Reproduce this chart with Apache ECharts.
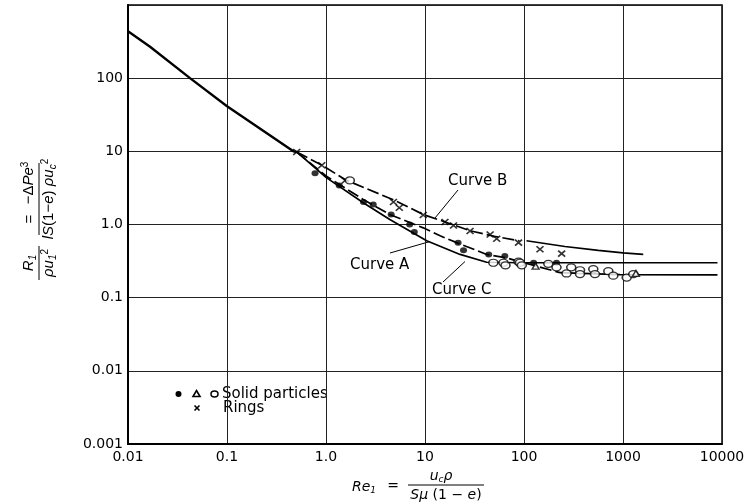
<!DOCTYPE html>
<html>
<head>
<meta charset="utf-8">
<script src="https://cdn.jsdelivr.net/npm/echarts@6/dist/echarts.min.js"></script>
<style>
  html, body { margin: 0; padding: 0; background: #fff; }
  #chart { width: 745px; height: 503px; }
</style>
</head>
<body>
<div id="chart"></div>
<script>
// Tick labels, one per decade
const xTickLabels = ['0.01', '0.1', '1.0', '10', '100', '1000', '10000'];
const yTickLabels = ['0.001', '0.01', '0.1', '1.0', '10', '100', ''];

// Common viscous-region line [Re1, R1/(rho u1^2)]
const lowReCurve = [[0.01, 437], [0.0167, 269], [0.0423, 100], [0.0993, 41.6], [0.468, 10], [0.506, 9.8]];

// Curve B (upper)
const curveBDashed = [[0.506, 9.8], [0.906, 6.47], [1.62, 4.0], [4.98, 2.13], [9.6, 1.37], [19.3, 0.99], [28.5, 0.82], [50, 0.69], [90, 0.6]];
const curveBSolid = [[106, 0.6], [259, 0.5], [563, 0.444], [1000, 0.41], [1600, 0.39]];

// Curve A (middle at low Re, lowest at high Re)
const curveADashed = [[0.506, 9.8], [1, 4.6], [2.38, 2.2], [4.4, 1.37], [9.6, 0.9], [14.2, 0.7], [20.9, 0.565], [42, 0.39], [66, 0.35], [231, 0.22]];
const curveASolid = [[231, 0.22], [930, 0.207], [9000, 0.205]];

// Curve C
const curveC = [[0.506, 9.8], [1, 4.4], [2.38, 1.98], [4.41, 1.17], [10.4, 0.6], [22.6, 0.39], [42, 0.305], [91, 0.3], [231, 0.3], [9000, 0.3]];

// Experimental points
const rings = [[0.506, 9.8], [0.906, 6.47], [1.56, 4.0], [4.8, 2.03], [5.5, 1.69], [9.6, 1.35], [15.9, 1.08], [19.4, 0.97],
  [28.5, 0.815], [45.5, 0.73], [53, 0.64], [88, 0.565], [145, 0.458], [240, 0.4]];
const solidDots = [[0.775, 5.0], [1.36, 3.4], [2.39, 2.03], [3.0, 1.88], [4.55, 1.37], [7.0, 1.0], [7.8, 0.79],
  [21.6, 0.565], [24.5, 0.444], [44, 0.39], [64, 0.37], [125, 0.3], [213, 0.3]];
const openCircles = [[1.74, 4.0], [49, 0.3], [62, 0.3], [65, 0.277], [88, 0.31], [91, 0.3], [95, 0.277], [176, 0.29],
  [213, 0.26], [269, 0.214], [300, 0.26], [368, 0.237], [368, 0.21], [501, 0.246], [521, 0.21], [711, 0.23],
  [798, 0.2], [1090, 0.188], [1270, 0.21]];
const openTriangles = [[131, 0.27], [1350, 0.215]];

const tickFont = 'DejaVu Sans';
const labelFont = 'DejaVu Sans';
const mathFont = 'Liberation Sans';

function decadeIndex(v, base) {
  return Math.round(Math.log10(v)) - base;
}

const yRich = {
  i: { fontFamily: mathFont, fontStyle: 'italic', fontSize: 15, lineHeight: 18, color: '#000' },
  n: { fontFamily: mathFont, fontSize: 15, lineHeight: 18, color: '#000' },
  sb: { fontFamily: mathFont, fontStyle: 'italic', fontSize: 10, lineHeight: 9, verticalAlign: 'bottom', color: '#000' },
  sp: { fontFamily: mathFont, fontSize: 10, lineHeight: 9, verticalAlign: 'top', color: '#000' }
};
const xRich = {
  i: { fontFamily: labelFont, fontStyle: 'italic', fontSize: 14, lineHeight: 17, color: '#000' },
  n: { fontFamily: labelFont, fontSize: 14, lineHeight: 17, color: '#000' },
  sb: { fontFamily: labelFont, fontStyle: 'italic', fontSize: 9, lineHeight: 8, verticalAlign: 'bottom', color: '#000' }
};

function richText(x, y, text, rich) {
  return {
    type: 'text', x: x, y: y, silent: true,
    style: { text: text, rich: rich, align: 'center', verticalAlign: 'middle',
      textAlign: 'center', textVerticalAlign: 'middle', fill: '#000' }
  };
}
function plainText(x, y, text, size, family, align) {
  return {
    type: 'text', x: x, y: y, silent: true,
    style: { text: text, fontFamily: family, fontSize: size, fill: '#000',
      align: align || 'center', verticalAlign: 'middle',
      textAlign: align || 'center', textVerticalAlign: 'middle' }
  };
}
function seg(x1, y1, x2, y2, w) {
  return { type: 'line', silent: true, shape: { x1: x1, y1: y1, x2: x2, y2: y2 },
    style: { stroke: '#000', lineWidth: w || 1 } };
}

const chart = echarts.init(document.getElementById('chart'), null, { renderer: 'canvas' });

const lineBase = { type: 'line', showSymbol: false, silent: true, z: 3 };

chart.setOption({
  animation: false,
  backgroundColor: '#fff',
  grid: {
    left: 128, right: 23, top: 5, bottom: 59,
    show: true, borderColor: '#000', borderWidth: 1.5,
    outerBoundsMode: 'none'
  },
  xAxis: {
    type: 'log', logBase: 10, min: 0.01, max: 10000,
    axisLine: { show: true, onZero: false, lineStyle: { color: '#000', width: 2 } },
    axisTick: { show: false },
    minorTick: { show: false },
    splitLine: { show: true, lineStyle: { color: '#222', width: 1 } },
    axisLabel: {
      margin: 6, color: '#000', fontFamily: tickFont, fontSize: 14,
      formatter: function (v) { return xTickLabels[decadeIndex(v, -2)] || ''; }
    }
  },
  yAxis: {
    type: 'log', logBase: 10, min: 0.001, max: 1000,
    axisLine: { show: true, onZero: false, lineStyle: { color: '#000', width: 2 } },
    axisTick: { show: false },
    minorTick: { show: false },
    splitLine: { show: true, lineStyle: { color: '#222', width: 1 } },
    axisLabel: {
      margin: 5, color: '#000', fontFamily: tickFont, fontSize: 14,
      formatter: function (v) { return yTickLabels[decadeIndex(v, -3)] || ''; }
    }
  },
  series: [
    Object.assign({}, lineBase, { name: 'viscous', data: lowReCurve, lineStyle: { color: '#000', width: 2.4 } }),
    Object.assign({}, lineBase, { name: 'Curve B dashed', data: curveBDashed, lineStyle: { color: '#000', width: 1.7, type: [12, 4] } }),
    Object.assign({}, lineBase, { name: 'Curve B', data: curveBSolid, lineStyle: { color: '#000', width: 1.7 } }),
    Object.assign({}, lineBase, { name: 'Curve A dashed', data: curveADashed, lineStyle: { color: '#000', width: 1.7, type: [12, 4] } }),
    Object.assign({}, lineBase, { name: 'Curve A', data: curveASolid, lineStyle: { color: '#000', width: 1.7 } }),
    Object.assign({}, lineBase, { name: 'Curve C', data: curveC, lineStyle: { color: '#000', width: 1.7 } }),
    {
      type: 'scatter', name: 'Rings', data: rings, z: 5, silent: true,
      symbol: 'path://M0 0L10 10M10 0L0 10', symbolSize: [7, 6],
      itemStyle: { color: 'rgba(0,0,0,0)', borderColor: '#000', borderWidth: 1.6 }
    },
    {
      type: 'scatter', name: 'Solid particles', data: solidDots, z: 5, silent: true,
      symbol: 'circle', symbolSize: [7, 6], itemStyle: { color: '#000' }
    },
    {
      type: 'scatter', name: 'Solid particles (open)', data: openCircles, z: 6, silent: true,
      symbol: 'circle', symbolSize: [9, 7],
      itemStyle: { color: '#fff', borderColor: '#000', borderWidth: 1.4 }
    },
    {
      type: 'scatter', name: 'Solid particles (triangle)', data: openTriangles, z: 6, silent: true,
      symbol: 'triangle', symbolSize: [7, 6],
      itemStyle: { color: '#fff', borderColor: '#000', borderWidth: 1.4 }
    }
  ],
  graphic: [
    // curve labels with leader lines
    plainText(448, 181, 'Curve B', 15, labelFont, 'left'),
    seg(458, 190, 435, 218),
    plainText(350, 265, 'Curve A', 15, labelFont, 'left'),
    seg(390, 253, 430, 241.5),
    plainText(432, 290, 'Curve C', 15, labelFont, 'left'),
    seg(443, 282, 465, 261.5),

    // key
    { type: 'circle', silent: true, shape: { cx: 178.5, cy: 394, r: 3 }, style: { fill: '#000' } },
    { type: 'polygon', silent: true, shape: { points: [[196.5, 390.5], [200, 396.5], [193, 396.5]] },
      style: { fill: '#fff', stroke: '#000', lineWidth: 1.6 } },
    { type: 'ellipse', silent: true, shape: { cx: 214.5, cy: 394, rx: 3.5, ry: 3 },
      style: { fill: '#fff', stroke: '#000', lineWidth: 1.5 } },
    plainText(222, 394, 'Solid particles', 15, labelFont, 'left'),
    seg(194.5, 405.5, 199.5, 410.5, 1.6),
    seg(199.5, 405.5, 194.5, 410.5, 1.6),
    plainText(223, 408, 'Rings', 15, labelFont, 'left'),

    // x axis title: Re1 = u_c rho / (S mu (1 - e))
    richText(364, 487, '{i|Re}{sb|1}', xRich),
    plainText(393, 486, '=', 14, labelFont),
    seg(408, 485, 484, 485, 1),
    richText(441, 476, '{i|u}{sb|c}{i|ρ}', xRich),
    richText(446, 495, '{i|Sμ}{n| (1 − }{i|e}{n|)}', xRich),

    // y axis title, rotated to read upwards
    {
      type: 'group', x: 39, y: 222, rotation: Math.PI / 2, silent: true,
      children: [
        richText(-41, -10, '{i|R}{sb|1}', yRich),
        seg(-58, 0, -24, 0, 1),
        richText(-41, 10, '{i|ρu}{sb|1}{sp|2}', yRich),
        plainText(3, -9, '=', 15, mathFont),
        richText(39, -10, '{n|−Δ}{i|Pe}{sp|3}', yRich),
        seg(-13, 0, 59, 0, 1),
        richText(23, 10, '{i|lS}{n|(1−}{i|e}{n|) }{i|ρu}{sb|c}{sp|2}', yRich)
      ]
    }
  ]
});
</script>
</body>
</html>
